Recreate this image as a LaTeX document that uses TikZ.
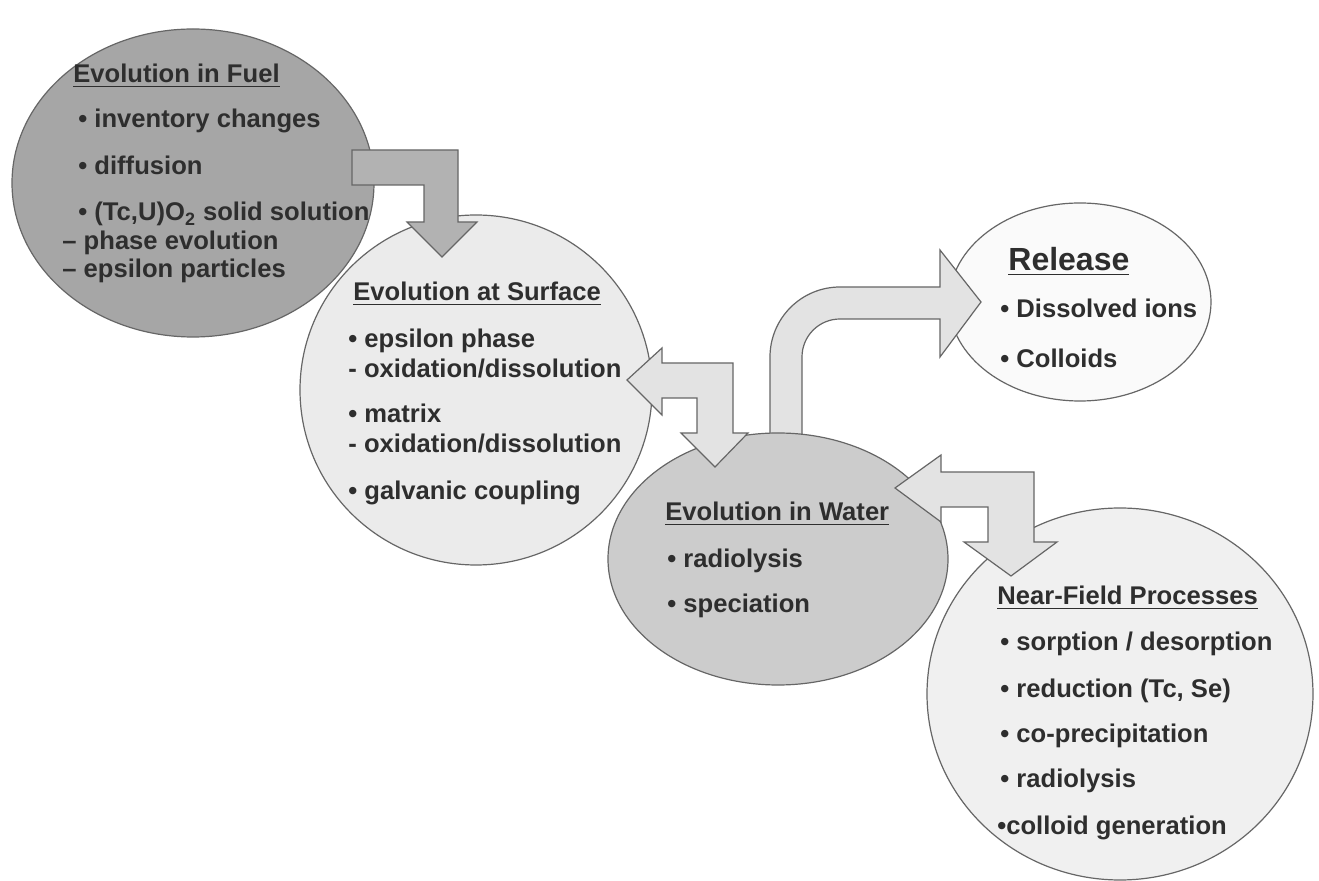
\documentclass[tikz,border=0pt]{standalone}
\usepackage{fontspec}
\setmainfont{Liberation Sans}
\usetikzlibrary{shapes.geometric}
\tikzset{
    outline color/.style={black!60},
    blob/.style={ellipse,draw=black!60,line width=0.6pt,inner sep=0pt},
    fuel color/.style={fill=black!35},
    surface color/.style={fill=black!8},
    water color/.style={fill=black!20},
    release color/.style={fill=white!98!black},
    field color/.style={fill=black!6},
    block arrow/.style={draw=black!60,line width=0.6pt,line join=miter},
    dark arrow/.style={block arrow,fill=black!30},
    light arrow/.style={block arrow,fill=black!11},
    item/.style={anchor=base west,inner sep=0pt,text=black!82,font=\bfseries\fontsize{12.8}{15}\selectfont},
    big item/.style={item,font=\bfseries\fontsize{16}{19}\selectfont},
}

\begin{document}
\begin{tikzpicture}[x=0.5pt,y=-0.5pt]

        \fill[white] (0,0) rectangle (1319,881);
        \useasboundingbox (0,0) rectangle (1319,881);

        % the five stages
        \node[blob, fuel color, minimum width=181pt, minimum height=154pt] (fuel) at (193,183) {};
        \node[blob, surface color, minimum width=176pt, minimum height=175pt] (surf) at (476,390) {};
        \node[blob, release color, minimum width=131pt, minimum height=99pt] (rel) at (1080,302) {};

        % water -> release, stem hidden under the water ellipse
        \draw[light arrow] (770,452) -- (770,357) .. controls (770,318.3) and (801.3,287) .. (840,287)
            -- (940,287) -- (940,250) -- (981,302) -- (940,357) -- (940,319) -- (840,319)
            .. controls (819,319) and (802,336) .. (802,357) -- (802,452) -- cycle;

        \node[blob, water color, minimum width=170pt, minimum height=126pt] (water) at (778,559) {};
        \node[blob, field color, minimum width=193pt, minimum height=186pt] (near) at (1120,694) {};

        % fuel -> surface
        \draw[dark arrow] (352,150) -- (458,150) -- (458,222) -- (477,222) -- (442,257)
            -- (407,222) -- (424,222) -- (424,185) -- (352,185) -- cycle;

        % surface <-> water
        \draw[light arrow] (627,380) -- (662,348) -- (662,363) -- (733,363) -- (733,433) -- (748,433)
            -- (715,467) -- (681,433) -- (697,433) -- (697,398) -- (662,398) -- (662,415) -- cycle;

        % water <-> near field
        \draw[light arrow] (895,488) -- (941,455) -- (941,472) -- (1034,472) -- (1034,542) -- (1057,542)
            -- (1011,576) -- (964,542) -- (988,542) -- (988,507) -- (941,507) -- (941,522) -- cycle;

        % texts
        \node[item] (fuelhead) at (73,83) {\underline{Evolution in Fuel}};
        \foreach \x/\y/\t [count=\i] in {78/128/{• inventory changes}, 78/175/{• diffusion},
            78/221/{• (Tc,U)O\textsubscript{2} solid solution}, 62/250/{– phase evolution}, 62/278/{– epsilon particles}}{
            \node[item] (fuel\i) at (\x,\y) {\t};
        }

        \node[item] (surfhead) at (353,301) {\underline{Evolution at Surface}};
        \foreach \y/\t [count=\i] in {348/{• epsilon phase}, 378/{- oxidation/dissolution}, 423/{• matrix},
            453/{- oxidation/dissolution}, 500/{• galvanic coupling}}{
            \node[item] (surf\i) at (348,\y) {\t};
        }

        \node[item] (waterhead) at (665,521) {\underline{Evolution in Water}};
        \node[item] (water1) at (667,568) {• radiolysis};
        \node[item] (water2) at (667,613) {• speciation};

        \node[big item] (relhead) at (1008,271) {\underline{Release}};
        \node[item] (rel1) at (1000,318) {• Dissolved ions};
        \node[item] (rel2) at (1000,368) {• Colloids};

        \node[item] (nearhead) at (997,605) {\underline{Near-Field Processes}};
        \foreach \x/\y/\t [count=\i] in {1000/651/{• sorption / desorption}, 1000/698/{• reduction (Tc, Se)},
            1000/743/{• co-precipitation}, 1000/788/{• radiolysis}, 997/835/{•colloid generation}}{
            \node[item] (near\i) at (\x,\y) {\t};
        }
    \end{tikzpicture}
\end{document}
